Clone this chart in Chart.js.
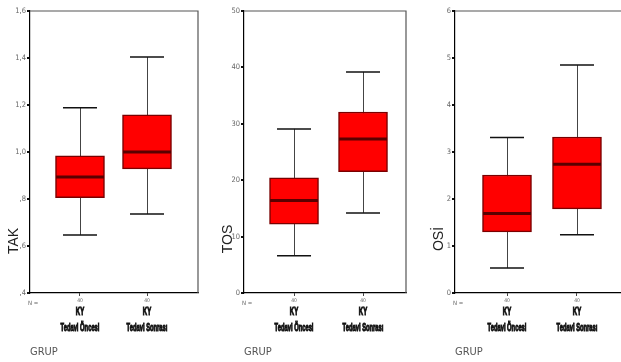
<!DOCTYPE html>
<html>
<head>
<meta charset="utf-8">
<script src="https://cdn.jsdelivr.net/npm/chart.js@4"></script>
<style>
html, body { margin:0; padding:0; background:#fff; width:621px; height:362px; overflow:hidden; }
.panel { position:absolute; top:0; height:362px; overflow:hidden; }
</style>
</head>
<body>
<div class="panel" style="left:0;width:205px"><canvas id="cTak" width="205" height="362"></canvas></div>
<div class="panel" style="left:205px;width:210px"><canvas id="cTos" width="210" height="362"></canvas></div>
<div class="panel" style="left:415px;width:206px"><canvas id="cOsi" width="215" height="362"></canvas></div>
<script>
// groups on the x axis
const groups = ['Tedavi Öncesi', 'Tedavi Sonrası']
const groupCode = 'KY'
const groupN = [40, 40]

// TAK
const takMin = [0.647, 0.736]
const takQ1 = [0.806, 0.928]
const takMedian = [0.894, 1.0]
const takQ3 = [0.984, 1.158]
const takMax = [1.188, 1.404]
const takTicks = [0.4, 0.6, 0.8, 1.0, 1.2, 1.4, 1.6]
const takTickLabels = [',4', ',6', ',8', '1,0', '1,2', '1,4', '1,6']

// TOS
const tosMin = [6.6, 14.2]
const tosQ1 = [12.2, 21.5]
const tosMedian = [16.4, 27.3]
const tosQ3 = [20.4, 32.1]
const tosMax = [29.1, 39.2]
const tosTicks = [0, 10, 20, 30, 40, 50]
const tosTickLabels = ['0', '10', '20', '30', '40', '50']

// OSİ
const osiMin = [0.53, 1.24]
const osiQ1 = [1.30, 1.79]
const osiMedian = [1.69, 2.74]
const osiQ3 = [2.51, 3.32]
const osiMax = [3.31, 4.85]
const osiTicks = [0, 1, 2, 3, 4, 5, 6]
const osiTickLabels = ['0', '1', '2', '3', '4', '5', '6']

const narrow = "'Liberation Sans Narrow', 'DejaVu Sans Condensed', sans-serif"
const sans = "'Liberation Sans', Arial, sans-serif"

// squeezed heavy text, like the narrow SPSS labels
function narrowText(ctx, text, x, y, sx) {
    ctx.save()
    ctx.translate(x, y)
    ctx.scale(sx, 1)
    ctx.lineWidth = 1
    ctx.strokeText(text, 0, 0)
    ctx.fillText(text, 0, 0)
    ctx.restore()
}

// whiskers, medians, frame and small texts
const boxExtras = {
    id: 'boxExtras',
    beforeDatasetsDraw(chart, args, o) {
        const ctx = chart.ctx
        const x = chart.scales.x, y = chart.scales.y
        const a = chart.chartArea
        ctx.save()
        // frame (top + right)
        ctx.strokeStyle = '#555'
        ctx.lineWidth = 1.2
        ctx.beginPath()
        ctx.moveTo(a.left, a.top)
        ctx.lineTo(a.right, a.top)
        if (o.frameRight) ctx.lineTo(a.right, a.bottom)
        ctx.stroke()
        // whisker stems
        ctx.strokeStyle = '#444'
        ctx.lineWidth = 1
        for (let i = 0; i < o.min.length; i++) {
            const px = Math.round(x.getPixelForValue(i + 1)) + 0.5
            ctx.beginPath()
            ctx.moveTo(px, y.getPixelForValue(o.min[i]))
            ctx.lineTo(px, y.getPixelForValue(o.max[i]))
            ctx.stroke()
        }
        ctx.restore()
    },
    afterDatasetsDraw(chart, args, o) {
        const ctx = chart.ctx
        const x = chart.scales.x, y = chart.scales.y
        ctx.save()
        for (let i = 0; i < o.min.length; i++) {
            const px = x.getPixelForValue(i + 1)
            // caps
            ctx.strokeStyle = '#111'
            ctx.lineWidth = 1.5
            ;[o.min[i], o.max[i]].forEach(v => {
                const py = y.getPixelForValue(v)
                ctx.beginPath()
                ctx.moveTo(px - 17, py)
                ctx.lineTo(px + 17, py)
                ctx.stroke()
            })
            // median
            ctx.strokeStyle = '#5a0000'
            ctx.lineWidth = 3
            const my = y.getPixelForValue(o.median[i])
            ctx.beginPath()
            ctx.moveTo(px - 24, my)
            ctx.lineTo(px + 24, my)
            ctx.stroke()
        }
        ctx.restore()
    },
    afterDraw(chart, args, o) {
        const ctx = chart.ctx
        const x = chart.scales.x
        const a = chart.chartArea
        ctx.save()
        ctx.fillStyle = '#666'
        ctx.textBaseline = 'middle'
        ctx.font = '6px ' + narrow
        ctx.textAlign = 'left'
        ctx.fillText('N =', a.left - 2, 303)
        ctx.textAlign = 'center'
        ctx.font = '5px ' + narrow
        groupN.forEach((n, i) => {
            ctx.fillText(String(n), x.getPixelForValue(i + 1), 301)
        })
        // group labels
        ctx.fillStyle = '#111'
        ctx.strokeStyle = '#111'
        ctx.font = 'bold 10px ' + sans
        groups.forEach((g, i) => {
            const px = x.getPixelForValue(i + 1)
            narrowText(ctx, groupCode, px, 312, 0.6)
            narrowText(ctx, g, px, 328, 0.58)
        })
        // y title
        ctx.fillStyle = '#222'
        ctx.font = '14px ' + sans
        ctx.translate(o.titleX, o.titleY)
        ctx.rotate(-Math.PI / 2)
        ctx.fillText(o.title, 0, 0)
        ctx.restore()
    }
}

function makePanel(id, p) {
    const ctx = document.getElementById(id).getContext('2d')
    return new Chart(ctx, {
        type: 'bar',
        data: {
            datasets: [{
                data: p.q1.map((v, i) => ({ x: i + 1, y: [v, p.q3[i]] })),
                backgroundColor: '#ff0000',
                borderColor: '#7a0000',
                borderWidth: 1.5,
                borderSkipped: false,
                barThickness: 49
            }]
        },
        options: {
            responsive: false,
            animation: false,
            layout: { padding: { top: 11, right: p.padRight, left: 0, bottom: 0 } },
            plugins: {
                legend: { display: false },
                tooltip: { enabled: false },
                boxExtras: {
                    min: p.min, max: p.max, median: p.median,
                    title: p.title, titleX: p.titleX, titleY: p.titleY,
                    frameRight: p.frameRight
                }
            },
            scales: {
                x: {
                    type: 'linear',
                    offset: false,
                    min: p.xMin,
                    max: p.xMax,
                    afterBuildTicks: s => { s.ticks = groups.map((g, i) => ({ value: i + 1 })) },
                    afterFit: s => { s.height = 69 },
                    ticks: { display: false },
                    grid: { offset: false, drawOnChartArea: false, drawTicks: true, tickLength: 3, color: '#444', lineWidth: 1 },
                    border: { display: true, color: '#000', width: 1.2 },
                    title: {
                        display: true,
                        text: 'GRUP',
                        align: 'start',
                        color: '#555',
                        font: { family: narrow, size: 11 },
                        padding: { top: 0, bottom: 3 }
                    }
                },
                y: {
                    min: p.ticks[0],
                    max: p.ticks[p.ticks.length - 1],
                    afterBuildTicks: s => { s.ticks = p.ticks.map(v => ({ value: v })) },
                    afterFit: s => { s.width = p.axisW },
                    ticks: {
                        padding: 1,
                        color: '#666',
                        font: { family: narrow, size: 7.5 },
                        callback: (v, i) => p.tickLabels[i]
                    },
                    grid: { drawOnChartArea: false, drawTicks: true, tickLength: 3, color: '#111', lineWidth: 2 },
                    border: { display: true, color: '#000', width: 1.2 }
                }
            }
        },
        plugins: [boxExtras]
    })
}

makePanel('cTak', {
    min: takMin, q1: takQ1, median: takMedian, q3: takQ3, max: takMax,
    ticks: takTicks, tickLabels: takTickLabels,
    title: 'TAK', titleX: 14, titleY: 241,
    axisW: 30, padRight: 7, xMin: 0.254, xMax: 2.761, frameRight: true
})
makePanel('cTos', {
    min: tosMin, q1: tosQ1, median: tosMedian, q3: tosQ3, max: tosMax,
    ticks: tosTicks, tickLabels: tosTickLabels,
    title: 'TOS', titleX: 23, titleY: 239,
    axisW: 39, padRight: 9, xMin: 0.275, xMax: 2.623, frameRight: true
})
makePanel('cOsi', {
    min: osiMin, q1: osiQ1, median: osiMedian, q3: osiQ3, max: osiMax,
    ticks: osiTicks, tickLabels: osiTickLabels,
    title: 'OSİ', titleX: 24, titleY: 239,
    axisW: 40, padRight: 5, xMin: 0.257, xMax: 2.686, frameRight: false
})
</script>
</body>
</html>
